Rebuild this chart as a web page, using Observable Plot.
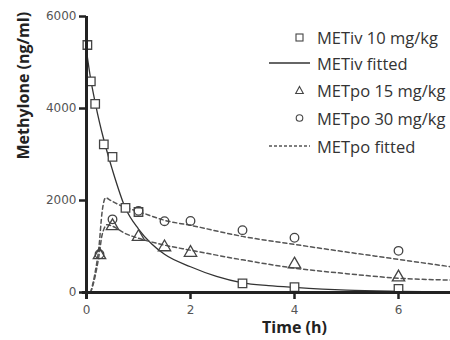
<!DOCTYPE html>
<html><head><meta charset="utf-8">
<script src="https://cdn.jsdelivr.net/npm/d3@7"></script>
<script src="https://cdn.jsdelivr.net/npm/@observablehq/plot@0.6"></script>
<style>
body{margin:0;background:#fff;}
#wrap{position:relative;width:450px;height:340px;}
#legend{position:absolute;left:0;top:0;width:450px;height:340px;pointer-events:none;font-family:"Open Sans",sans-serif;font-size:16.5px;color:#333;}
.row{position:absolute;left:266px;height:20px;display:flex;align-items:center;}
.row svg{width:46px;height:20px;}
.row span{margin-left:5px;white-space:nowrap;}
</style></head>
<body><div id="wrap"><div id="chart"></div><div id="legend"></div></div>
<script>
// observed data
const ivTime = [0.017, 0.083, 0.167, 0.333, 0.5, 0.75, 1, 3, 4, 6];
const ivConc = [5380, 4590, 4100, 3220, 2950, 1840, 1750, 200, 115, 80];
const po15Time = [0.25, 0.5, 1, 1.5, 2, 4, 6];
const po15Conc = [815, 1445, 1210, 985, 865, 612, 330];
const po30Time = [0.25, 0.5, 1, 1.5, 2, 3, 4, 6];
const po30Conc = [830, 1590, 1775, 1550, 1555, 1355, 1190, 905];
// fitted curves
const ivFitTime = [0, 0.083, 0.167, 0.25, 0.333, 0.5, 0.75, 1, 1.25, 1.5, 2, 2.5, 3, 3.5, 4, 5, 6, 7];
const ivFitConc = [5250, 4620, 4130, 3700, 3320, 2660, 1830, 1380, 1060, 830, 560, 350, 210, 150, 110, 50, 25, 12];
const po30FitTime = [0.08, 0.16, 0.24, 0.3, 0.37, 0.45, 0.6, 0.75, 1, 1.5, 2, 3, 4, 5, 6, 7];
const po30FitConc = [0, 400, 1000, 1750, 2060, 2010, 1920, 1850, 1760, 1570, 1460, 1220, 1045, 880, 720, 560];
const po15FitTime = [0.08, 0.16, 0.24, 0.3, 0.4, 0.5, 0.75, 1, 1.5, 2, 3, 4, 5, 6, 7];
const po15FitConc = [0, 320, 800, 1250, 1475, 1440, 1280, 1180, 1030, 920, 710, 530, 410, 310, 270];
const xTicks = [0, 2, 4, 6];
const yTicks = [0, 2000, 4000, 6000];
const legendLabels = ["METiv 10 mg/kg", "METiv fitted", "METpo 15 mg/kg", "METpo 30 mg/kg", "METpo fitted"];

const zip = (t, c) => t.map((x, i) => ({t: x, c: c[i]}));
const iv = zip(ivTime, ivConc), p15 = zip(po15Time, po15Conc), p30 = zip(po30Time, po30Conc);
const ivF = zip(ivFitTime, ivFitConc), p30F = zip(po30FitTime, po30FitConc), p15F = zip(po15FitTime, po15FitConc);

const font = "'DejaVu Sans', sans-serif";
const chart = Plot.plot({
  width: 450, height: 340,
  marginLeft: 86, marginRight: 0, marginTop: 16, marginBottom: 48,
  style: {fontFamily: font, background: "#fff"},
  x: {domain: [0, 7]},
  y: {domain: [0, 6000]},
  marks: [
    Plot.line(ivF, {x: "t", y: "c", curve: "monotone-x", stroke: "#333", strokeWidth: 1.3}),
    Plot.line(p30F, {x: "t", y: "c", curve: "monotone-x", stroke: "#555", strokeWidth: 1.5, strokeDasharray: "4,3"}),
    Plot.line(p15F, {x: "t", y: "c", curve: "monotone-x", stroke: "#555", strokeWidth: 1.5, strokeDasharray: "4,3"}),
    Plot.dot(iv, {x: "t", y: "c", symbol: "square", r: 4.8, stroke: "#444", strokeWidth: 1.3, fill: "#fff"}),
    Plot.dot(p15, {x: "t", y: "c", symbol: "triangle", r: 4.6, stroke: "#444", strokeWidth: 1.3, fill: "none"}),
    Plot.dot(p30, {x: "t", y: "c", symbol: "circle", r: 4.3, stroke: "#444", strokeWidth: 1.3, fill: "none"}),
    Plot.ruleY([0], {stroke: "#222", strokeWidth: 3, x1: -0.08, x2: 7}),
    Plot.ruleX([0], {stroke: "#222", strokeWidth: 3, y1: -150, y2: 6000}),
    Plot.axisX({ticks: xTicks, tickFormat: d3.format("d"), tickSize: 7, tickPadding: 6, strokeWidth: 2.5, stroke: "#222", fill: "#555", fontSize: 12, label: null}),
    Plot.axisY({ticks: yTicks, tickFormat: d3.format("d"), tickSize: 7, tickPadding: 3, strokeWidth: 2.5, stroke: "#222", fill: "#555", fontSize: 12, label: null}),
    Plot.text(["Methylone (ng/ml)"], {frameAnchor: "left", rotate: -90, dx: -63, dy: 5, fontWeight: "bold", fontSize: 16, fill: "#222", fontFamily: "'Open Sans', sans-serif"}),
    Plot.text(["Time (h)"], {frameAnchor: "bottom", dx: 26, dy: 40, fontWeight: "bold", fontSize: 16, fill: "#222", fontFamily: "'Open Sans', sans-serif"})
  ]
});
document.getElementById("chart").appendChild(chart);

// legend
const symbols = [
  '<rect x="30" y="7" width="7" height="7" fill="none" stroke="#444" stroke-width="1.1"/>',
  '<line x1="3" y1="10" x2="44" y2="10" stroke="#333" stroke-width="1.3"/>',
  '<path d="M33.5,6.5 L37.3,13.5 L29.7,13.5 Z" fill="none" stroke="#444" stroke-width="1.1"/>',
  '<circle cx="33.5" cy="10" r="3.3" fill="none" stroke="#444" stroke-width="1.1"/>',
  '<line x1="3" y1="10" x2="44" y2="10" stroke="#555" stroke-width="1.3" stroke-dasharray="3,2"/>'
];
const rowY = [37, 63, 90, 118, 146];
const leg = document.getElementById("legend");
legendLabels.forEach((lab, i) => {
  const d = document.createElement("div");
  d.className = "row";
  d.style.top = (rowY[i] - 10) + "px";
  d.innerHTML = '<svg viewBox="0 0 46 20">' + symbols[i] + '</svg><span>' + lab + '</span>';
  leg.appendChild(d);
});
</script></body></html>
